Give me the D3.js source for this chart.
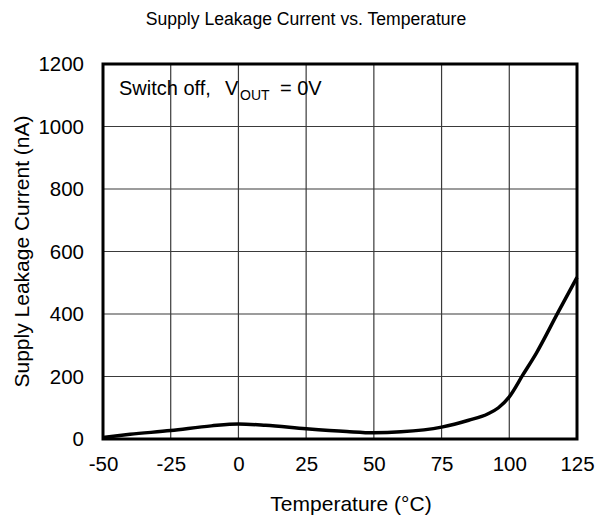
<!DOCTYPE html>
<html>
<head>
<meta charset="utf-8">
<script src="https://cdn.jsdelivr.net/npm/d3@7"></script>
<style>
  body { margin: 0; background: #fff; }
  text { font-family: Arial, "Liberation Sans", sans-serif; fill: #000; }
</style>
</head>
<body>
<svg id="chart" width="606" height="516"></svg>
<script>
// DATA
const temps = [-50, -40, -25, -10, 0, 10, 25, 40, 50, 60, 75, 85, 92, 96, 100, 105, 110, 118, 125];
const leakage = [5, 15, 27, 42, 48, 44, 33, 24, 20, 23, 38, 60, 80, 100, 135, 205, 275, 405, 517];
const xTicks = [-50, -25, 0, 25, 50, 75, 100, 125];
const yTicks = [0, 200, 400, 600, 800, 1000, 1200];

const margin = { top: 64, right: 29, bottom: 77, left: 103 },
      width = 606 - margin.left - margin.right,
      height = 516 - margin.top - margin.bottom;

const svg = d3.select('#chart');
const g = svg.append('g').attr('transform', `translate(${margin.left},${margin.top})`);

const x = d3.scaleLinear().domain([-50, 125]).range([0, width]);
const y = d3.scaleLinear().domain([0, 1200]).range([height, 0]);

// grid
g.selectAll('.vgrid').data(xTicks.slice(1, -1)).enter().append('line')
    .attr('x1', d => x(d)).attr('x2', d => x(d))
    .attr('y1', 0).attr('y2', height)
    .attr('stroke', '#3a3a3a').attr('stroke-width', 1.2);
g.selectAll('.hgrid').data(yTicks.slice(1, -1)).enter().append('line')
    .attr('x1', 0).attr('x2', width)
    .attr('y1', d => y(d)).attr('y2', d => y(d))
    .attr('stroke', '#3a3a3a').attr('stroke-width', 1.2);

// tick labels
const xAxis = g.append('g').attr('transform', `translate(0,${height})`)
    .call(d3.axisBottom(x).tickValues(xTicks).tickSize(0).tickPadding(17).tickFormat(d => String(d)));
xAxis.select('.domain').remove();
xAxis.selectAll('text').style('font-size', '20.5px');

const yAxis = g.append('g')
    .call(d3.axisLeft(y).tickValues(yTicks).tickSize(0).tickPadding(19).tickFormat(d => String(d)));
yAxis.select('.domain').remove();
yAxis.selectAll('text').style('font-size', '20.5px');

// curve
const line = d3.line()
    .x((d, i) => x(temps[i]))
    .y(d => y(d))
    .curve(d3.curveMonotoneX);
g.append('path')
    .datum(leakage)
    .attr('d', line)
    .attr('fill', 'none')
    .attr('stroke', '#000')
    .attr('stroke-width', 3.5);

// frame
g.append('rect')
    .attr('width', width).attr('height', height)
    .attr('fill', 'none').attr('stroke', '#000').attr('stroke-width', 3);

// annotation
const ann = g.append('g').style('font-size', '20px');
ann.append('text').attr('x', 16).attr('y', 31).text('Switch off,');
ann.append('text').attr('x', 122).attr('y', 31).text('V');
ann.append('text').attr('x', 137).attr('y', 36).style('font-size', '14px').text('OUT');
ann.append('text').attr('x', 177).attr('y', 31).text('= 0V');

// titles
svg.append('text').attr('x', 306).attr('y', 25).attr('text-anchor', 'middle')
    .style('font-size', '17.6px').text('Supply Leakage Current vs. Temperature');
svg.append('text').attr('x', 351).attr('y', 511).attr('text-anchor', 'middle')
    .style('font-size', '21px').text('Temperature (°C)');
svg.append('text').attr('transform', 'rotate(-90)')
    .attr('x', -(margin.top + height / 2)).attr('y', 29).attr('text-anchor', 'middle')
    .style('font-size', '21px').text('Supply Leakage Current (nA)');
</script>
</body>
</html>
